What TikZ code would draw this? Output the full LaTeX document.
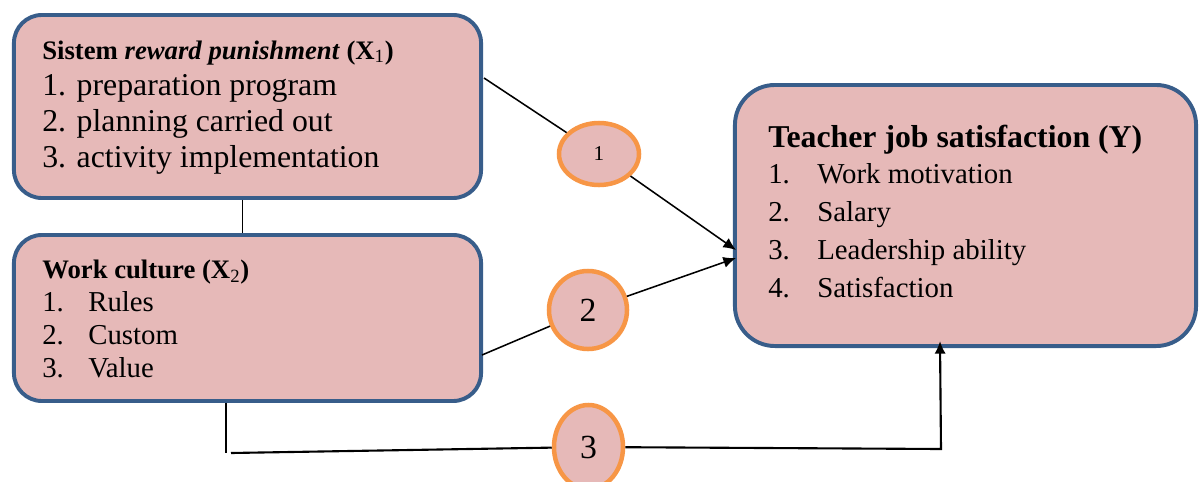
\documentclass[tikz,border=0pt]{standalone}
\usepackage{fontspec}
\setmainfont{Liberation Serif}
\usetikzlibrary{arrows.meta}
\usetikzlibrary{shapes.geometric}
\usetikzlibrary{positioning}
\definecolor{boxfill}{HTML}{E6B9B8}
\definecolor{boxline}{HTML}{385D8A}
\definecolor{ringline}{HTML}{F79646}
\tikzset{box/.style = {draw=boxline, line width=2.8pt, fill=boxfill,
                       rounded corners=0.7cm, inner sep=0pt},
         ring/.style = {ellipse, draw=ringline, line width=3.2pt, fill=boxfill,
                        inner sep=0pt},
         title/.style = {anchor=base west, inner sep=0pt,
                         font=\bfseries\fontsize{19}{23}\selectfont},
         item/.style = {anchor=base west, inner sep=0pt},
         link/.style = {line width=1.1pt},
         tip/.style = {-{Latex[length=9pt, width=8pt]}}}

\begin{document}
\begin{tikzpicture}[x=0.025cm, y=-0.025cm]
      \useasboundingbox (0,0) rectangle (1199,481);

      % the three boxes
      \node [box, minimum width=11.675cm, minimum height=4.575cm] (x1) at (247.5,106.5) {};
      \node [box, minimum width=11.675cm, minimum height=4.15cm] (x2) at (247.5,318) {};
      \node [box, rounded corners=1cm, minimum width=11.525cm, minimum height=6.525cm] (y) at (965.5,215.5) {};

      \node [title] (x1-title) at (42,59) {Sistem \textit{reward punishment} (X\textsubscript{\mdseries 1})};
      \foreach \txt [count=\i] in {preparation program, planning carried out, activity implementation} {
        \node [item, font=\fontsize{22.6}{27}\selectfont] (x1-\i) at (42,59+36*\i) {\i. \txt};
      }

      \node [title] (x2-title) at (42,278) {Work culture (X\textsubscript{\mdseries 2})};
      \foreach \txt [count=\i] in {Rules, Custom, Value} {
        \node [item, font=\fontsize{20.5}{25}\selectfont] (x2-\i) at (42,278+33*\i) {\makebox[1.15cm][l]{\i.}\txt};
      }

      \node [title, font=\bfseries\fontsize{22.6}{27}\selectfont] (y-title) at (768,147) {Teacher job satisfaction (Y)};
      \foreach \txt [count=\i] in {Work motivation, Salary, Leadership ability, Satisfaction} {
        \node [item, font=\fontsize{20.5}{25}\selectfont] (y-\i) at (768,183+38.3*\i-38.3) {\makebox[1.225cm][l]{\i.}\txt};
      }

      % paths
      \coordinate (a1) at (484,78);
      \coordinate (t1) at (736,250);
      \coordinate (a2) at (482,355);
      \coordinate (t2) at (736,258);
      \coordinate (b3) at (231,453);
      \coordinate (e3) at (941,449);
      \coordinate (t3) at (940,341);

      \draw [link] ([xshift=-0.125cm]x1.south) -- ([xshift=-0.125cm]x2.north);
      \draw [link] ([xshift=-0.5375cm]x2.south) -- ++(0,50);

      \node [ring, minimum width=2cm, minimum height=1.55cm, font=\fontsize{15}{15}\selectfont] (c1) at (599,154) {1};
      \node [ring, minimum width=1.95cm, minimum height=1.95cm, font=\fontsize{24}{24}\selectfont] (c2) at (588,310) {2};
      \node [ring, minimum width=1.725cm, minimum height=2.1cm, font=\fontsize{24}{24}\selectfont] (c3) at (588.5,447) {3};

      \draw [link] (a1) -- (c1);
      \draw [link, tip] (c1) -- (t1);
      \draw [link] (a2) -- (c2);
      \draw [link, tip] (c2) -- (t2);
      \draw [link, line width=1.5pt] (b3) -- (c3);
      \draw [link, line width=1.5pt, tip] (c3) -- (e3) -- (t3);
\end{tikzpicture}
\end{document}
